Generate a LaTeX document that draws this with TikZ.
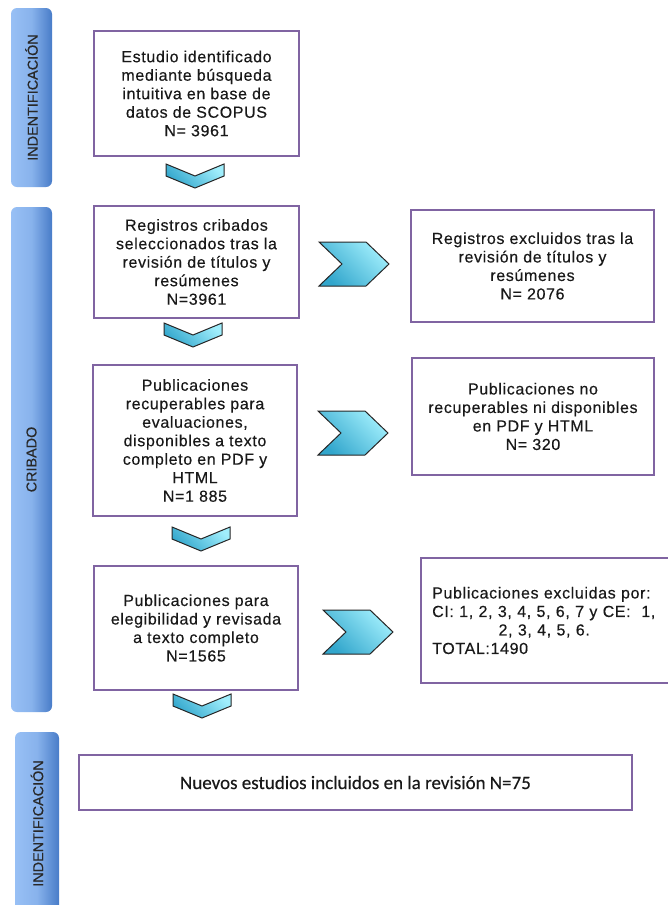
\documentclass[tikz,border=0pt]{standalone}
\usepackage{fontspec}
\setmainfont{Liberation Sans}
\newfontfamily\boxfont[LetterSpace=4,FakeBold=0.3]{Liberation Sans}
\newfontfamily\sidefont[FakeBold=0.3]{Liberation Sans}
\newfontfamily\calfont[FakeBold=0.3]{Carlito}

\definecolor{boxline}{RGB}{128,100,162}
\definecolor{barlight}{RGB}{152,192,245}
\definecolor{bardark}{RGB}{72,124,200}
\definecolor{bartext}{RGB}{40,40,40}
\definecolor{chevlight}{RGB}{160,238,252}
\definecolor{chevdark}{RGB}{50,166,204}

\newcommand{\bodyfont}{\boxfont\fontsize{16}{18.5}\selectfont}
\newcommand{\barfont}{\sidefont\fontsize{14.4}{16}\selectfont}
\newcommand{\fullline}[1]{\makebox[224pt][s]{#1}}
\newcommand{\chevdown}[2]{\draw[chev] (#1,#2) -- ++(29,12) -- ++(29,-12) -- ++(0,12) -- ++(-29,12) -- ++(-29,-12) -- cycle;}
\newcommand{\chevright}[2]{\draw[chev] (#1,#2) -- ++(47,0) -- ++(23,22) -- ++(-23,22) -- ++(-47,0) -- ++(23,-22) -- cycle;}

\begin{document}
\begin{tikzpicture}[x=1pt, y=-1pt,
    box/.style={draw=boxline, line width=1.3pt, fill=white, inner sep=0pt, align=center, font=\bodyfont, text=black!90},
    bar/.style={rounded corners=6pt, left color=barlight, right color=bardark, middle color=barlight!80!bardark, inner sep=0pt, font=\barfont, text=bartext},
    chev/.style={draw=black!85, line width=1pt, top color=chevlight, bottom color=chevdark, shading angle=-45}]
    \fill[white] (0,0) rectangle (668,905);
    \useasboundingbox (0,0) rectangle (668,905);

    % Side bars
    \node[bar, minimum width=41pt, minimum height=179pt] (bar-ident) at (31.5,97.5) {\rotatebox{90}{INDENTIFICACIÓN}};
    \node[bar, minimum width=41pt, minimum height=505pt] (bar-crib) at (31.5,459.5) {\rotatebox{90}{CRIBADO}};
    \node[bar, minimum width=44pt, minimum height=183pt] (bar-incl) at (37,823.5) {\rotatebox{90}{INDENTIFICACIÓN}};

    % Main column
    \node[box, minimum width=205pt, minimum height=125pt] (box-1) at (196.5,93.5) {Estudio identificado\\mediante búsqueda\\intuitiva en base de\\datos de SCOPUS\\N= 3961};
    \node[box, minimum width=205pt, minimum height=112pt] (box-2) at (196.5,262) {Registros cribados\\seleccionados tras la\\revisión de títulos y\\resúmenes\\N=3961};
    \node[box, minimum width=204pt, minimum height=151pt] (box-3) at (195,440.5) {Publicaciones\\recuperables para\\evaluaciones,\\disponibles a texto\\completo en PDF y\\HTML\\N=1 885};
    \node[box, minimum width=204pt, minimum height=124pt] (box-4) at (196,628) {Publicaciones para\\elegibilidad y revisada\\a texto completo\\N=1565};

    % Excluded column
    \node[box, minimum width=243pt, minimum height=112pt] (excl-1) at (532.5,266) {Registros excluidos tras la\\revisión de títulos y\\resúmenes\\N= 2076};
    \node[box, minimum width=242pt, minimum height=117pt] (excl-2) at (533,416.5) {Publicaciones no\\recuperables ni disponibles\\en PDF y HTML\\N= 320};
    \node[box, minimum width=270pt, minimum height=125pt] (excl-3) at (556,620.5) {};
    \node[font=\bodyfont, text=black!90, text width=224pt, align=left, inner sep=0pt, anchor=west] (excl-3-text) at (432,620.5) {\fullline{Publicaciones excluidas por:}\\\fullline{CI: 1, 2, 3, 4, 5, 6, 7 y CE:\ \ 1,}\\\hfil 2, 3, 4, 5, 6.\\TOTAL:1490};

    % Included
    \node[box, minimum width=553pt, minimum height=55pt, font=\calfont\fontsize{19}{22}\selectfont] (final) at (355.5,782.5) {Nuevos estudios incluidos en la revisión N=75};

    % Chevrons
    \chevdown{166}{164}
    \chevdown{164}{323}
    \chevdown{172}{527}
    \chevdown{173}{694}
    \chevright{319}{242}
    \chevright{318}{411}
    \chevright{323}{610}
\end{tikzpicture}
\end{document}
